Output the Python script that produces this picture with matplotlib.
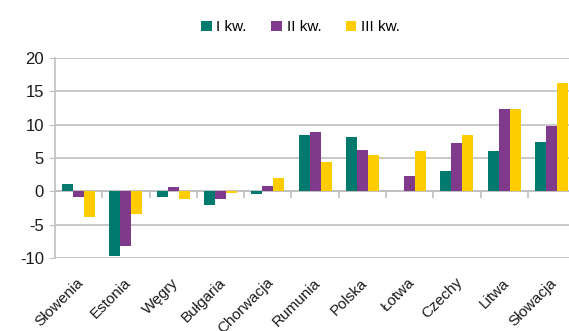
import numpy as np
import matplotlib.pyplot as plt
import matplotlib.transforms as mtransforms

plt.rcParams['font.family'] = ['Liberation Sans', 'DejaVu Sans']
plt.rcParams['axes.unicode_minus'] = False

kraje = ['Słowenia', 'Estonia', 'Węgry', 'Bułgaria', 'Chorwacja', 'Rumunia',
         'Polska', 'Łotwa', 'Czechy', 'Litwa', 'Słowacja']
kw1 = [1.1, -9.7, -0.8, -2.0, -0.4, 8.4, 8.1, 0.0, 3.0, 6.0, 7.4]
kw2 = [-0.9, -8.2, 0.7, -1.2, 0.8, 8.9, 6.2, 2.3, 7.3, 12.3, 9.8]
kw3 = [-3.8, -3.4, -1.2, -0.3, 2.0, 4.4, 5.4, 6.0, 8.4, 12.3, 16.2]
serie = ['I kw.', 'II kw.', 'III kw.']
kolory = ['#007A6E', '#7F3A8C', '#FFCC00']

textsize = 11
grid_c = '#BFBFBF'

fig = plt.figure(figsize=[5.69, 3.31], dpi=100)
ax = fig.add_axes([0.0967, 0.2205, 0.914, 0.6043])

x = np.arange(len(kraje))
w = 0.233
for i, (vals, lab, c) in enumerate(zip([kw1, kw2, kw3], serie, kolory)):
    ax.bar(x + (i - 1) * w, vals, width=w, color=c, label=lab, zorder=3)

ax.set_xlim(-0.5, len(kraje) - 0.5)
ax.set_ylim(-10, 20)
ax.set_yticks(np.arange(-10, 21, 5))
ax.yaxis.grid(True, color=grid_c, lw=1.2, zorder=0)
ax.tick_params(axis='y', length=4, color=grid_c, labelsize=textsize + 1,
               labelcolor='#1a1a1a', pad=4)

for s in ['top', 'right', 'bottom']:
    ax.spines[s].set_visible(False)
ax.spines['left'].set_color(grid_c)
ax.spines['left'].set_linewidth(1.2)

ax.set_xticks(x)
ax.set_xticklabels(kraje, rotation=45, ha='right', rotation_mode='anchor',
                   fontsize=textsize, color='#1a1a1a')
ax.tick_params(axis='x', length=0, pad=8)
shift = mtransforms.ScaledTranslation(-0.02, -0.065, fig.dpi_scale_trans)
for t in ax.get_xticklabels():
    t.set_transform(t.get_transform() + shift)

# zero line with category separators
zero = ax.secondary_xaxis(1 / 3)
zero.set_xticks(np.arange(0.5, len(kraje) - 0.5, 1))
zero.set_xticklabels([])
zero.tick_params(length=5, color=grid_c, width=1.2)
zero.spines['bottom'].set_color(grid_c)
zero.spines['bottom'].set_linewidth(1.2)

fig.legend(loc='upper center', bbox_to_anchor=(0.528, 0.98), ncol=3,
           frameon=False, fontsize=textsize, handlelength=0.7,
           handleheight=0.7, handletextpad=0.3, columnspacing=1.6)

plt.savefig('out.png', dpi=100)
